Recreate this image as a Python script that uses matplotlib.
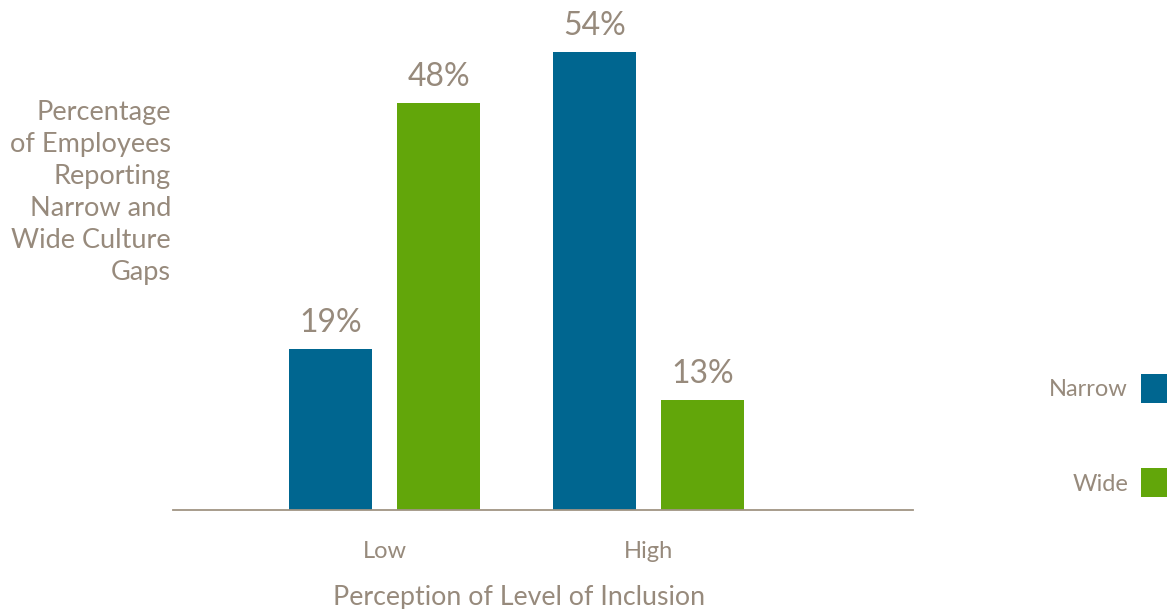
import numpy as np
import matplotlib.pyplot as plt

# data
groups = ['Low', 'High']
series = ['Narrow', 'Wide']
narrow = [19, 54]
wide = [48, 13]

blue = '#006690'
green = '#62a60a'
txt = '#978a7c'

plt.rcParams['font.family'] = ['Lato', 'DejaVu Sans']

fig = plt.figure(figsize=(11.67, 6.09), dpi=100)
ax = fig.add_axes([173 / 1167, 1 - 510 / 609, 740 / 1167, 510 / 609])

x = np.arange(len(groups))
w = 0.314
off = 0.205
b1 = ax.bar(x - off, narrow, w, color=blue, label=series[0])
b2 = ax.bar(x + off, wide, w, color=green, label=series[1])

for bars, vals in [(b1, narrow), (b2, wide)]:
    for b, v in zip(bars, vals):
        ax.text(b.get_x() + b.get_width() / 2, v + 1.25, f'{v}%',
                ha='center', va='bottom', fontsize=23, color=txt)

ax.set_xlim(-0.80, 2.0)
ax.set_ylim(0, 60.1)
ax.set_yticks([])
ax.set_xticks(x)
ax.set_xticklabels(groups, fontsize=17, color=txt)
ax.tick_params(axis='x', length=0, pad=22)
ax.set_xlabel('Perception of Level of Inclusion', fontsize=19.3, color=txt)
ax.xaxis.label.set_va('center')
ax.xaxis.set_label_coords(0.467, -87 / 510)

for s in ['top', 'right', 'left']:
    ax.spines[s].set_visible(False)
ax.spines['bottom'].set_color('#a09483')
ax.spines['bottom'].set_linewidth(1.3)
ax.patch.set_alpha(0)

fig.text(171 / 1167, 1 - 100 / 609,
         'Percentage\nof Employees\nReporting\nNarrow and\nWide Culture\nGaps',
         ha='right', va='top', fontsize=19.5, color=txt, linespacing=1.35)

fig.legend(handles=[b1, b2], labels=series, loc='upper right',
           bbox_to_anchor=(1.0, 1 - 374 / 609), frameon=False, markerfirst=False,
           fontsize=17, labelcolor=txt, handlelength=1.1, handleheight=1.5,
           handletextpad=0.55, labelspacing=2.78, borderpad=0, borderaxespad=0)

fig.savefig('out.png', dpi=100)
